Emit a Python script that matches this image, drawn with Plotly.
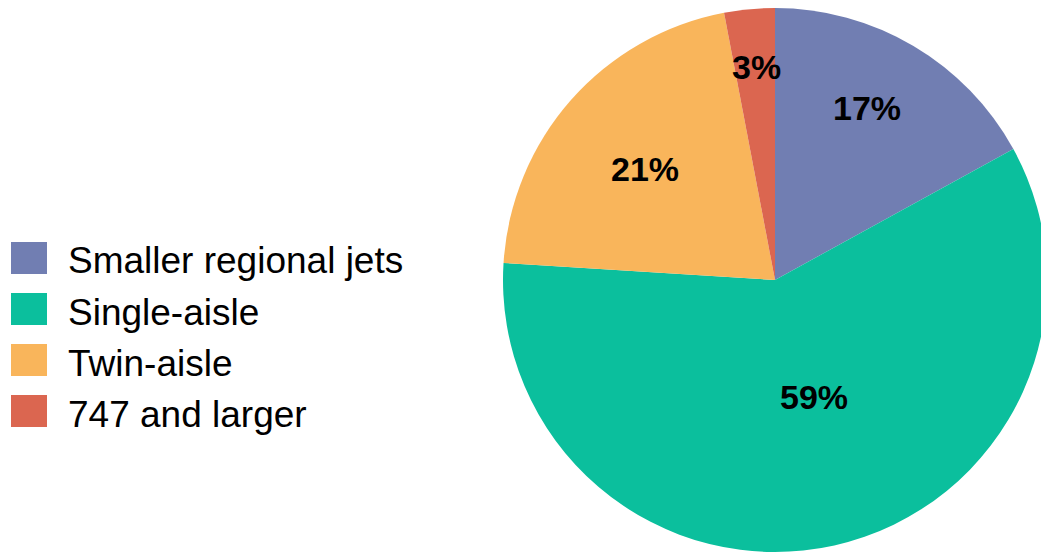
import math
import plotly.graph_objects as go

labels = ["Smaller regional jets", "Single-aisle", "Twin-aisle", "747 and larger"]
values = [17, 59, 21, 3]
colors = ["#717EB2", "#0BBF9D", "#F9B55B", "#DB6650"]

# label placement style (radial fraction of radius, angular nudge in degrees)
label_rfrac = [0.72, 0.45, 0.63, 0.79]
label_dang = [-2.5, -5.8, -0.7, 0.5]

W, H = 1060, 557
FONT = "Liberation Sans, Arial, sans-serif"

# pie placement (pixels)
cx, cy, R = 775, 280, 272
dom_x = [(cx - R) / W, (cx + R) / W]
dom_y = [1 - (cy + R) / H, 1 - (cy - R) / H]

fig = go.Figure(go.Pie(
    labels=labels,
    values=values,
    sort=False,
    direction="clockwise",
    rotation=0,
    marker=dict(colors=colors, line=dict(width=0)),
    textinfo="none",
    hoverinfo="label+percent",
    domain=dict(x=dom_x, y=dom_y),
    showlegend=False,
))

annotations, shapes = [], []

# percentage labels placed from the data (clockwise from 12 o'clock)
total = sum(values)
cum = 0.0
for v, f, da in zip(values, label_rfrac, label_dang):
    mid = (cum + v / 2) / total * 360.0 + da
    cum += v
    th = math.radians(mid)
    px = cx + R * f * math.sin(th)
    py = cy - R * f * math.cos(th)
    annotations.append(dict(xref="paper", yref="paper", x=px / W, y=1 - (py + 1) / H,
                            xanchor="center", yanchor="middle", showarrow=False,
                            text=f"<b>{round(v / total * 100)}%</b>",
                            font=dict(family=FONT, size=34, color="black")))

# custom legend (large swatches like the reference)
leg_x0, leg_x1 = 11, 47
leg_top, sw_h, step = 242, 32, 51
for i, (lab, col) in enumerate(zip(labels, colors)):
    y0 = leg_top + i * step
    y1 = y0 + sw_h
    shapes.append(dict(type="rect", xref="paper", yref="paper",
                       x0=leg_x0 / W, x1=leg_x1 / W,
                       y0=1 - y1 / H, y1=1 - y0 / H,
                       fillcolor=col, line=dict(width=0)))
    annotations.append(dict(xref="paper", yref="paper",
                            x=66 / W, y=1 - (y0 + sw_h / 2 + 3) / H,
                            xanchor="left", yanchor="middle",
                            text=lab, showarrow=False,
                            font=dict(family=FONT, size=37, color="black")))

fig.update_layout(
    width=W, height=H,
    margin=dict(l=0, r=0, t=0, b=0),
    paper_bgcolor="white",
    plot_bgcolor="white",
    shapes=shapes,
    annotations=annotations,
)

fig.write_html(
    "out.html",
    config={"displayModeBar": False},
    post_script="document.body.style.margin='0';document.body.style.overflow='hidden';",
)
